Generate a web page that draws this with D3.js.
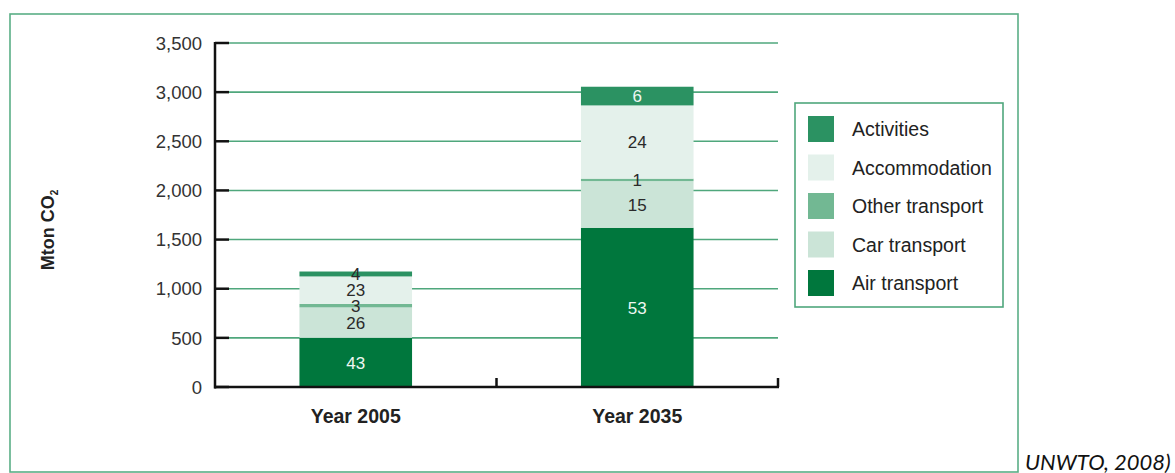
<!DOCTYPE html>
<html>
<head>
<meta charset="utf-8">
<script src="https://cdn.jsdelivr.net/npm/d3@7"></script>
<style>
  body { margin: 0; background: #fff; }
  svg { display: block; font-family: "Liberation Sans", Arial, sans-serif; }
</style>
</head>
<body>
<svg width="1175" height="473"></svg>
<script>
// Data (Mton CO2) and the printed shares (%)
var years = ["Year 2005", "Year 2035"];
var series = ["Air transport", "Car transport", "Other transport", "Accommodation", "Activities"];
var airTransport   = [500, 1620];
var carTransport   = [310, 475];
var otherTransport = [35, 25];
var accommodation  = [280, 745];
var activities     = [50, 190];
var shares = {
  "Air transport":   [43, 53],
  "Car transport":   [26, 15],
  "Other transport": [3, 1],
  "Accommodation":   [23, 24],
  "Activities":      [4, 6]
};
var yTicks = [0, 500, 1000, 1500, 2000, 2500, 3000, 3500];

var colors = {
  "Air transport":   "#00773d",
  "Car transport":   "#cbe4d7",
  "Other transport": "#72b893",
  "Accommodation":   "#e4f1eb",
  "Activities":      "#2b9262"
};
var green = "#4fa77c";

// build rows for the stack
var rows = years.map(function(yr, i) {
  return {
    year: yr,
    "Air transport": airTransport[i],
    "Car transport": carTransport[i],
    "Other transport": otherTransport[i],
    "Accommodation": accommodation[i],
    "Activities": activities[i],
    idx: i
  };
});

var svg = d3.select("svg");

// outer frame
svg.append("rect")
    .attr("x", 10).attr("y", 14)
    .attr("width", 1008).attr("height", 458)
    .attr("fill", "none")
    .attr("stroke", "#5aae86")
    .attr("stroke-width", 1.6);

var x = d3.scaleBand()
    .domain(years)
    .range([215, 778]);

var y = d3.scaleLinear()
    .domain([0, 3500])
    .range([387, 43]);

var barW = x.bandwidth() * 0.4;

// grid lines (behind the bars)
svg.append("g").selectAll("line")
    .data(yTicks.filter(function(d) { return d > 0; }))
  .enter().append("line")
    .attr("x1", 229).attr("x2", 778)
    .attr("y1", function(d) { return y(d); })
    .attr("y2", function(d) { return y(d); })
    .attr("stroke", green)
    .attr("stroke-width", 1.6);

// stacked bars
var stack = d3.stack().keys(series);
var layers = stack(rows);

var layerG = svg.append("g").selectAll("g")
    .data(layers)
  .enter().append("g")
    .attr("fill", function(d) { return colors[d.key]; });

layerG.selectAll("rect")
    .data(function(d) { return d; })
  .enter().append("rect")
    .attr("x", function(d) { return x(d.data.year) + (x.bandwidth() - barW) / 2; })
    .attr("y", function(d) { return y(d[1]); })
    .attr("width", barW)
    .attr("height", function(d) { return y(d[0]) - y(d[1]); });

// segment labels
layers.forEach(function(layer) {
  svg.append("g").selectAll("text")
      .data(layer)
    .enter().append("text")
      .attr("x", function(d) { return x(d.data.year) + x.bandwidth() / 2; })
      .attr("y", function(d) { return (y(d[0]) + y(d[1])) / 2; })
      .attr("dy", "0.36em")
      .attr("text-anchor", "middle")
      .attr("font-size", 17)
      .attr("fill", function(d) {
        var h = y(d[0]) - y(d[1]);
        var dark = layer.key == "Air transport" || layer.key == "Activities";
        return (dark && h > 10) ? "#eef7f2" : "#2a2a2a";
      })
      .text(function(d) { return shares[layer.key][d.data.idx]; });
});

// y axis
var yAxis = svg.append("g");
yAxis.append("line")
    .attr("x1", 215).attr("x2", 215)
    .attr("y1", y(3500) - 1).attr("y2", y(0) + 1.5)
    .attr("stroke", "#111").attr("stroke-width", 2.5);
yAxis.selectAll(".tick")
    .data(yTicks)
  .enter().append("line")
    .attr("x1", 215).attr("x2", 229)
    .attr("y1", function(d) { return y(d); })
    .attr("y2", function(d) { return y(d); })
    .attr("stroke", "#111").attr("stroke-width", 2.5);
yAxis.selectAll("text")
    .data(yTicks)
  .enter().append("text")
    .attr("x", 202)
    .attr("y", function(d) { return y(d); })
    .attr("dy", "0.36em")
    .attr("text-anchor", "end")
    .attr("font-size", 18.5)
    .attr("fill", "#333")
    .text(d3.format(","));

// x axis
var xAxis = svg.append("g");
xAxis.append("line")
    .attr("x1", 214).attr("x2", 779)
    .attr("y1", y(0)).attr("y2", y(0))
    .attr("stroke", "#111").attr("stroke-width", 2.5);
xAxis.selectAll(".tick")
    .data(years)
  .enter().append("line")
    .attr("x1", function(d) { return x(d) + x.bandwidth(); })
    .attr("x2", function(d) { return x(d) + x.bandwidth(); })
    .attr("y1", y(0) - 9).attr("y2", y(0))
    .attr("stroke", "#111").attr("stroke-width", 2.5);
xAxis.selectAll("text")
    .data(years)
  .enter().append("text")
    .attr("x", function(d) { return x(d) + x.bandwidth() / 2; })
    .attr("y", 423)
    .attr("text-anchor", "middle")
    .attr("font-size", 19.5)
    .attr("font-weight", "bold")
    .attr("fill", "#222")
    .text(function(d) { return d; });

// y axis title
var yTitle = svg.append("text")
    .attr("transform", "translate(54,230) rotate(-90)")
    .attr("text-anchor", "middle")
    .attr("font-size", 18)
    .attr("font-weight", "bold")
    .attr("fill", "#222");
yTitle.append("tspan").text("Mton CO");
yTitle.append("tspan").attr("font-size", 10).attr("dy", 4).text("2");

// legend
var legendKeys = series.slice().reverse();
var legend = svg.append("g");
legend.append("rect")
    .attr("x", 795).attr("y", 103)
    .attr("width", 208).attr("height", 204)
    .attr("fill", "none")
    .attr("stroke", green)
    .attr("stroke-width", 1.6);
var item = legend.selectAll(".item")
    .data(legendKeys)
  .enter().append("g")
    .attr("transform", function(d, i) { return "translate(808," + (116 + i * 38.5) + ")"; });
item.append("rect")
    .attr("width", 26).attr("height", 26)
    .attr("fill", function(d) { return colors[d]; });
item.append("text")
    .attr("x", 44).attr("y", 13)
    .attr("dy", "0.36em")
    .attr("font-size", 19.5)
    .attr("fill", "#222")
    .text(function(d) { return d; });

// source note, cut at the right edge
svg.append("text")
    .attr("x", 1025).attr("y", 470)
    .attr("font-family", "Lato, 'Open Sans', sans-serif")
    .attr("font-style", "italic")
    .attr("font-size", 22)
    .attr("fill", "#111")
    .text("UNWTO, 2008)");
</script>
</body>
</html>
